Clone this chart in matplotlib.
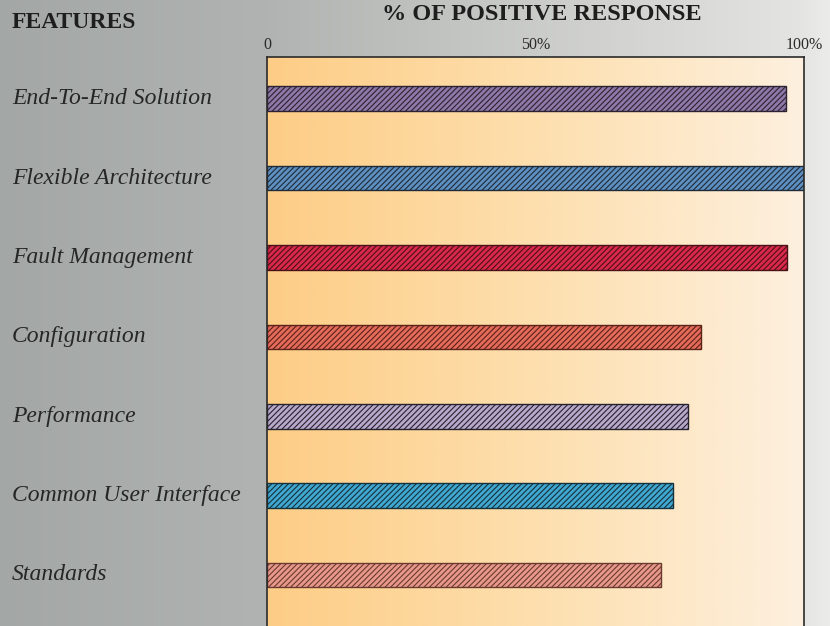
import numpy as np
import matplotlib
matplotlib.use("Agg")
import matplotlib.pyplot as plt
import matplotlib.transforms as mtransforms
from matplotlib.colors import to_rgb

features = ["End-To-End Solution", "Flexible Architecture", "Fault Management",
            "Configuration", "Performance", "Common User Interface", "Standards"]
positive = [96.6, 100.0, 96.8, 80.9, 78.4, 75.6, 73.4]
bar_colors = ["#8f78a8", "#5d8fc0", "#d9284a", "#e46a5a", "#b8a8cc", "#40a8d0", "#e8988a"]
hatch_colors = ["#2a2230", "#1e2a38", "#4a1018", "#5a2218", "#26222c", "#14303c", "#6a3a30"]
tick_vals = [0, 50, 100]
tick_labels = ["0", "50%", "100%"]

plt.rcParams["font.family"] = ["Liberation Serif", "DejaVu Serif"]
plt.rcParams["hatch.linewidth"] = 0.8

W, H = 830, 626
fig = plt.figure(figsize=(W / 100, H / 100), dpi=100)


def hgrad(stops, n):
    xs = np.linspace(0, 1, n)
    pos = [s[0] for s in stops]
    cols = np.array([to_rgb(s[1]) for s in stops])
    return np.stack([np.interp(xs, pos, cols[:, k]) for k in range(3)], axis=1)


# grey paper background
bg = fig.add_axes([0, 0, 1, 1], zorder=-10)
grey = hgrad([(0, "#a3a7a6"), (0.32, "#b0b3b1"), (0.75, "#d3d4d2"), (0.965, "#e4e4e2"),
              (1, "#ececeb")], W)
bg.imshow(np.tile(grey[None, :, :], (20, 1, 1)), aspect="auto", extent=[0, 1, 0, 1])
bg.set_axis_off()

left, right, top = 267 / W, 804 / W, 57 / H
ax = fig.add_axes([left, 0, right - left, 1 - top])

y = np.arange(len(features))
ax.set_xlim(0, 100)
ax.set_ylim(6.643, -0.525)

# orange plot-area gradient
warm = hgrad([(0, "#fdcd86"), (0.5, "#fddfae"), (1, "#fdf0df")], 400)
ax.imshow(np.tile(warm[None, :, :], (10, 1, 1)), aspect="auto",
          extent=[0, 100, 6.643, -0.525], zorder=0)

for i, (v, c, hc) in enumerate(zip(positive, bar_colors, hatch_colors)):
    ax.barh(y[i], v, height=0.31, color=c, edgecolor=hc, hatch="//////",
            linewidth=1.0, zorder=2)

for s in ["left", "top", "right"]:
    ax.spines[s].set_color("#2a2a2a")
    ax.spines[s].set_linewidth(1.2)
ax.spines["bottom"].set_visible(False)

ax.xaxis.tick_top()
ax.set_xticks(tick_vals)
ax.set_xticklabels(tick_labels, fontsize=11.5, color="#2a2a2a")
ax.tick_params(axis="x", length=0, pad=3)
ax.set_yticks([])

trans = mtransforms.blended_transform_factory(fig.transFigure, ax.transData)
for i, name in enumerate(features):
    ax.text(12 / W, y[i], name, transform=trans, fontsize=17, style="italic",
            color="#262626", ha="left", va="center")

fig.text(12 / W, 1 - 23 / H, "FEATURES", fontsize=17, fontweight="bold",
         color="#1e1e1e", ha="left", va="center")
fig.text(542 / W, 1 - 14 / H, "% OF POSITIVE RESPONSE", fontsize=17.5,
         fontweight="bold", color="#1e1e1e", ha="center", va="center")

fig.savefig("out.png", dpi=100)
